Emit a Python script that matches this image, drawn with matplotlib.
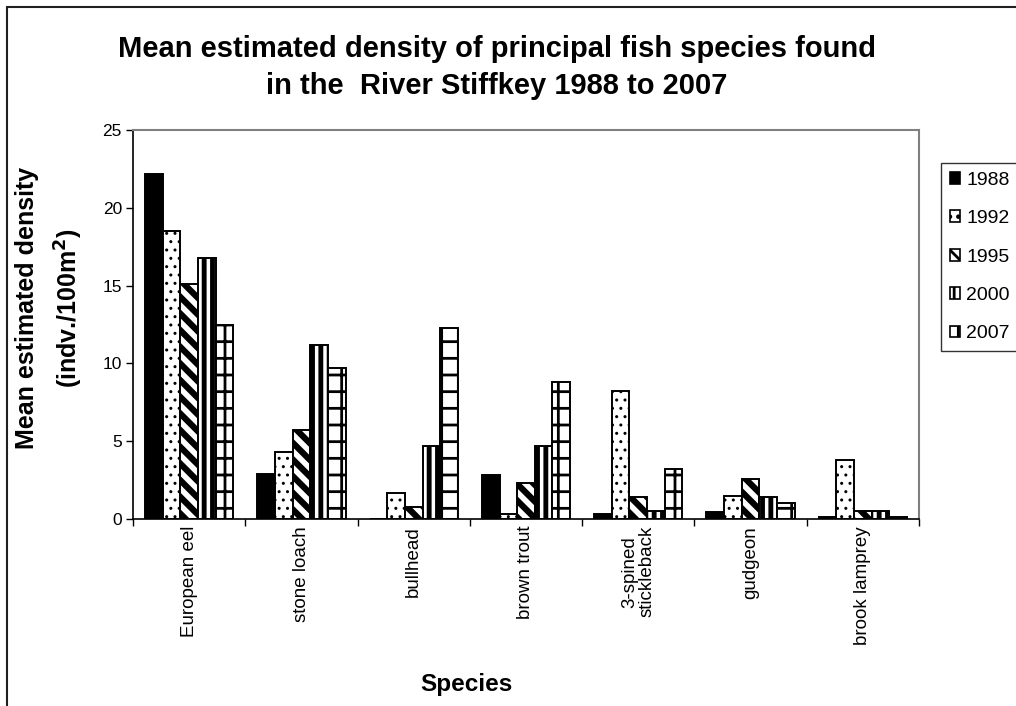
import matplotlib
matplotlib.use("Agg")
import matplotlib.pyplot as plt
import matplotlib.patches as mpatches
import numpy as np

plt.rcParams['font.family'] = ['Liberation Sans', 'DejaVu Sans']
plt.rcParams['hatch.linewidth'] = 2.0

species = ['European eel', 'stone loach', 'bullhead', 'brown trout',
           '3-spined\nstickleback', 'gudgeon', 'brook lamprey']
years = ['1988', '1992', '1995', '2000', '2007']
d1988 = [22.2, 2.9, 0.0, 2.8, 0.3, 0.45, 0.1]
d1992 = [18.5, 4.3, 1.7, 0.3, 8.2, 1.5, 3.8]
d1995 = [15.1, 5.7, 0.8, 2.3, 1.4, 2.6, 0.5]
d2000 = [16.8, 11.2, 4.7, 4.7, 0.5, 1.4, 0.5]
d2007 = [12.5, 9.7, 12.3, 8.8, 3.2, 1.0, 0.1]
series = [d1988, d1992, d1995, d2000, d2007]

styles = [
    dict(color='black', hatch=None, hlw=1.0),
    dict(color='white', hatch='..', hlw=1.0),
    dict(color='white', hatch='\\\\', hlw=4.5),
    dict(color='white', hatch='||', hlw=3.5),
    dict(color='white', hatch='+', hlw=2.0),
]

W, H = 1016, 706
fig = plt.figure(figsize=(W / 100, H / 100), dpi=100)
ax = fig.add_axes([133 / W, 1 - 519 / H, (919 - 133) / W, (519 - 130) / H])

x = np.arange(len(species)) + 0.5
bw = 0.157
for i, (yr, vals, st) in enumerate(zip(years, series, styles)):
    bars = ax.bar(x + (i - 2) * bw, vals, width=bw, color=st['color'],
                  edgecolor='black', linewidth=1.4, hatch=st['hatch'],
                  label=yr, zorder=2)
    for b in bars:
        if hasattr(b, 'set_hatch_linewidth'):
            b.set_hatch_linewidth(st['hlw'])

ax.set_xlim(0, len(species))
ax.set_ylim(0, 25)
ax.set_yticks(np.arange(0, 26, 5))
ax.tick_params(axis='y', direction='out', length=5, width=1, labelsize=12.5, pad=3)
ax.set_xticks(np.arange(0, len(species) + 1))
ax.set_xticklabels([])
ax.tick_params(axis='x', which='major', direction='out', length=5, width=1)
ax.set_xticks(x, minor=True)
ax.set_xticklabels(species, minor=True, rotation=90, fontsize=13.5,
                   va='top', ha='center', linespacing=1.05)
ax.tick_params(axis='x', which='minor', length=0, pad=5)

for s in ['left', 'bottom']:
    ax.spines[s].set_color('black')
    ax.spines[s].set_linewidth(1.2)
for s in ['top', 'right']:
    ax.spines[s].set_color('#808080')
    ax.spines[s].set_linewidth(1.5)

fig.text(497 / W, 1 - 67.5 / H,
         'Mean estimated density of principal fish species found\nin the  River Stiffkey 1988 to 2007',
         ha='center', va='center', fontsize=21, fontweight='bold', linespacing=1.45)

fig.text(50 / W, 1 - 308 / H, 'Mean estimated density\n(indv./100m$^{\\mathbf{2}}$)',
         rotation=90, ha='center', va='center', fontsize=18, fontweight='bold',
         linespacing=1.55, multialignment='center')

fig.text(466 / W, 1 - 685 / H, 'Species', ha='center', va='center',
         fontsize=17.5, fontweight='bold')

handles = []
for yr, st in zip(years, styles):
    p = mpatches.Patch(facecolor=st['color'], edgecolor='black', hatch=st['hatch'],
                       linewidth=1.2, label=yr)
    if hasattr(p, 'set_hatch_linewidth'):
        p.set_hatch_linewidth(st['hlw'])
    handles.append(p)
leg = fig.legend(handles=handles, loc='upper left',
                 bbox_to_anchor=(941 / W, 1 - 163 / H), fontsize=14,
                 frameon=True, fancybox=False, handlelength=0.55, handleheight=0.55,
                 handletextpad=0.3, labelspacing=1.1, borderpad=0.45,
                 borderaxespad=0)
leg.get_frame().set_edgecolor('black')
leg.get_frame().set_linewidth(1.0)

border = mpatches.Rectangle((7 / W, -0.05), 1.1, 1 - 7 / H + 0.05,
                            transform=fig.transFigure, fill=False,
                            edgecolor='#202020', linewidth=1.5, clip_on=False)
fig.patches.append(border)

fig.savefig('out.png', dpi=100)
